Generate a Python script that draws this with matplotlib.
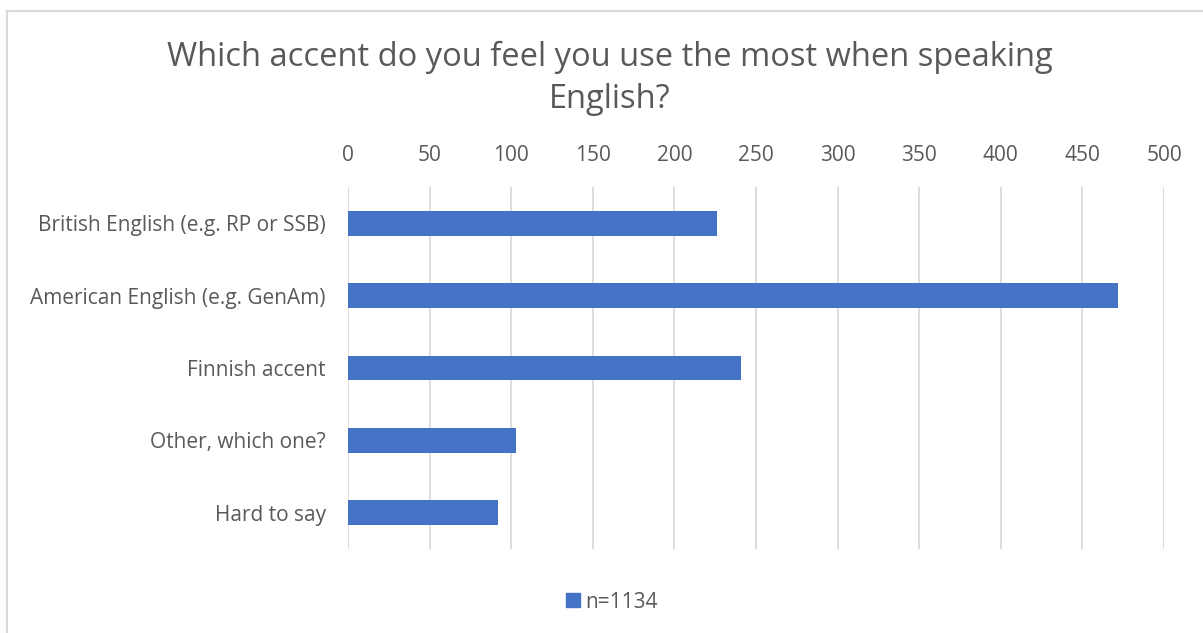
import matplotlib
matplotlib.use("Agg")
import matplotlib.pyplot as plt
from matplotlib.lines import Line2D

# Survey answers, top to bottom as shown
accents = ["British English (e.g. RP or SSB)", "American English (e.g. GenAm)",
           "Finnish accent", "Other, which one?", "Hard to say"]
counts = [226, 472, 241, 103, 92]
ticks = [0, 50, 100, 150, 200, 250, 300, 350, 400, 450, 500]
n_total = 1134

blue = "#4472C4"
txt = "#595959"
grid = "#D9D9D9"

plt.rcParams["font.family"] = ["Open Sans", "DejaVu Sans"]

W, H = 1203, 633
fig = plt.figure(figsize=(W / 100, H / 100), dpi=100)

# plot area in pixels: x 348..1164, y 187..549
ax = fig.add_axes([348 / W, 1 - 549 / H, (1164 - 348) / W, (549 - 187) / H])
ypos = list(range(len(accents)))
ax.barh(ypos, counts, height=0.345, color=blue, zorder=3)
ax.set_ylim(len(accents) - 0.5, -0.5)
ax.set_xlim(0, 500)
ax.set_xticks(ticks)
ax.set_xticklabels([str(t) for t in ticks])
ax.xaxis.tick_top()
ax.set_yticks(ypos)
ax.set_yticklabels(accents)
ax.tick_params(axis="x", length=0, pad=15, labelsize=15, colors=txt)
ax.tick_params(axis="y", length=0, pad=16, labelsize=15, colors=txt)
ax.grid(axis="x", color=grid, linewidth=1.3, zorder=0)
for s in ax.spines.values():
    s.set_visible(False)

fig.text(610 / W, 1 - 57 / H, "Which accent do you feel you use the most when speaking",
         ha="center", va="center", fontsize=23.5, color=txt)
fig.text(610 / W, 1 - 100 / H, "English?", ha="center", va="center", fontsize=23.5, color=txt)

# legend at the bottom
handle = Line2D([], [], marker="s", linestyle="none", markersize=10, color=blue)
fig.legend([handle], [f"n={n_total}"], loc="center", bbox_to_anchor=(610 / W, 1 - 602 / H),
           frameon=False, fontsize=15, labelcolor=txt, handletextpad=0.1, handlelength=1)

# chart frame (top and left edges)
fig.add_artist(Line2D([7 / W, 1], [1 - 11 / H, 1 - 11 / H], color=grid, linewidth=1.5))
fig.add_artist(Line2D([7 / W, 7 / W], [0, 1 - 11 / H], color=grid, linewidth=1.5))

fig.savefig("out.png", dpi=100, facecolor="white")
